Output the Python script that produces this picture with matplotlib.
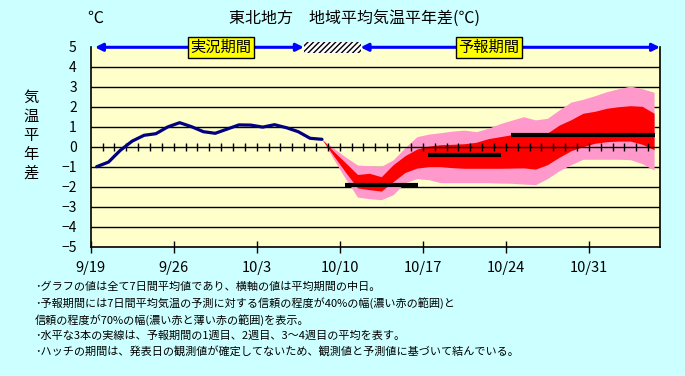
import numpy as np
import matplotlib
matplotlib.use("Agg")
import matplotlib.pyplot as plt
from matplotlib.patches import Rectangle

plt.rcParams['font.family'] = ['Noto Sans CJK JP', 'DejaVu Sans']

# 日付ラベル (9/19 を 0 日目とする)
tick_labels = ['9/19', '9/26', '10/3', '10/10', '10/17', '10/24', '10/31']
n_days = 48

# 実況 (7日間平均, 9/19〜10/8 の中日)
obs = [-1.0, -0.77, -0.18, 0.28, 0.57, 0.65, 0.99, 1.2, 1.0, 0.75,
       0.67, 0.88, 1.09, 1.08, 0.98, 1.1, 0.95, 0.75, 0.42, 0.37]

# 予報 (10/8〜11/5) 70%幅と40%幅
hi70 = [0.37, -0.08, -0.52, -0.92, -0.95, -0.98, -0.66, -0.05, 0.5, 0.63,
        0.7, 0.78, 0.83, 0.75, 0.92, 1.15, 1.33, 1.5, 1.34, 1.42,
        1.84, 2.23, 2.37, 2.55, 2.75, 2.9, 3.03, 2.9, 2.72]
hi40 = [0.37, -0.24, -0.81, -1.39, -1.33, -1.5, -0.9, -0.45, -0.12, 0.03,
        0.1, 0.12, 0.15, 0.22, 0.4, 0.5, 0.6, 0.7, 0.69, 0.68,
        1.08, 1.35, 1.67, 1.77, 1.92, 2.0, 2.05, 2.02, 1.67]
lo40 = [0.37, -0.47, -1.29, -2.06, -2.15, -2.22, -1.75, -1.29, -1.07, -1.0,
        -1.0, -1.05, -1.08, -1.08, -1.08, -1.08, -1.07, -1.06, -1.12, -0.9,
        -0.53, -0.2, 0.0, 0.17, 0.25, 0.28, 0.28, 0.12, -0.15]
lo70 = [0.37, -0.64, -1.62, -2.52, -2.6, -2.65, -2.4, -1.8, -1.6, -1.65,
        -1.8, -1.8, -1.8, -1.8, -1.8, -1.82, -1.83, -1.87, -1.9, -1.6,
        -1.2, -0.9, -0.63, -0.63, -0.63, -0.63, -0.65, -0.85, -1.17]

# 1週目, 2週目, 3〜4週目の平均
week_start = [21.4, 28.4, 35.4]
week_end = [27.6, 34.6, 47.6]
week_val = [-1.9, -0.4, 0.58]

obs_x = np.arange(len(obs)) + 0.5
fc_x = np.arange(len(hi70)) + 19.5

fig = plt.figure(figsize=(6.85, 3.76), dpi=100, facecolor='#CCFFFF')
ax = fig.add_axes([0.1324, 0.3439, 0.8311, 0.5319])
ax.set_facecolor('#FFFFCC')

ax.set_xlim(0, n_days)
ax.set_ylim(-5, 5)

for v in range(-4, 5):
    if v != 0:
        ax.axhline(v, color='black', lw=1, zorder=1)

# 信頼度の帯
ax.fill_between(fc_x, lo70, hi70, color='#FF99CC', lw=0, zorder=2)
ax.fill_between(fc_x, lo40, hi40, color='#FF0000', lw=0, zorder=3)

# ゼロ線と日ごとの目盛
ax.axhline(0, color='black', lw=1, zorder=4)
ax.vlines(np.arange(1, n_days), -0.2, 0.2, color='black', lw=1, zorder=4)

ax.plot(obs_x, obs, color='#000080', lw=2.3, zorder=5, solid_capstyle='round')
ax.hlines(week_val, week_start, week_end, color='black', lw=3, zorder=6)

# 実況期間・予報期間の矢印とハッチ
ax.add_patch(Rectangle((17.97, 4.67), 4.78, 0.55, facecolor='white',
                       edgecolor='black', hatch='//////', lw=0,
                       clip_on=False, zorder=7))
for x0, x1 in [(0.36, 17.97), (22.75, 48.0)]:
    ax.annotate('', xy=(x1, 4.97), xytext=(x0, 4.97), annotation_clip=False,
                arrowprops=dict(arrowstyle='<|-|>', color='blue', lw=2.2,
                                shrinkA=0, shrinkB=0, mutation_scale=11),
                zorder=7)
for xc, s in [(11.0, '実況期間'), (33.6, '予報期間')]:
    ax.text(xc, 4.97, s, ha='center', va='center', fontsize=11, zorder=8,
            bbox=dict(boxstyle='square,pad=0.15', fc='yellow', ec='black', lw=1))

ax.spines['top'].set_visible(False)
for side in ['left', 'bottom', 'right']:
    ax.spines[side].set_color('black')
    ax.spines[side].set_linewidth(1.2)

ax.set_yticks(range(-5, 6))
ax.set_yticklabels([str(v).replace('-', '\u2212') for v in range(-5, 6)])
ax.tick_params(axis='y', length=0, pad=10, labelsize=10)
ax.set_xticks(range(0, 43, 7))
ax.set_xticklabels(tick_labels)
ax.tick_params(axis='x', direction='inout', length=8, width=1, pad=6, labelsize=10.5)

fig.text(0.139, 0.952, '℃', ha='center', va='center', fontsize=11.5)
fig.text(0.518, 0.952, '東北地方\u3000地域平均気温平年差(℃)', ha='center', va='center',
         fontsize=11.5)
fig.text(0.045, 0.64, '気\n温\n平\n年\n差', ha='center', va='center', fontsize=11,
         linespacing=1.15)

notes = ['･グラフの値は全て7日間平均値であり、横軸の値は平均期間の中日。',
         '･予報期間には7日間平均気温の予測に対する信頼の程度が40%の幅(濃い赤の範囲)と',
         '信頼の程度が70%の幅(濃い赤と薄い赤の範囲)を表示。',
         '･水平な3本の実線は、予報期間の1週目、2週目、3～4週目の平均を表す。',
         '･ハッチの期間は、発表日の観測値が確定してないため、観測値と予測値に基づいて結んでいる。']
for i, s in enumerate(notes):
    fig.text(0.051, (376 - 287 - 16.3 * i) / 376, s, ha='left', va='center', fontsize=8.0)

fig.savefig('out.png', dpi=100, facecolor=fig.get_facecolor())
